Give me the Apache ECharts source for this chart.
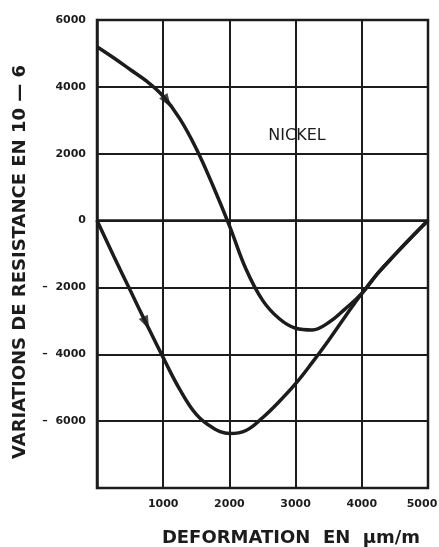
<!DOCTYPE html>
<html>
<head>
<meta charset="utf-8">
<script src="https://cdn.jsdelivr.net/npm/echarts@6/dist/echarts.min.js"></script>
<style>
  html, body { margin: 0; padding: 0; background: #fff; }
  #main { width: 439px; height: 547px; }
</style>
</head>
<body>
<div id="main"></div>
<script>
// deformation (µm/m)
var deformation = [0, 250, 500, 750, 1000, 1250, 1500, 1750, 2000, 2250, 2500,
    2750, 3000, 3250, 3500, 3750, 4000, 4250, 4500, 4750, 5000];
// lower branch, starts at 0
var lowerCurve = [0, -1050, -2080, -3100, -4100, -5050, -5800, -6200, -6370, -6280, -5900,
    -5420, -4880, -4250, -3580, -2870, -2180, -1560, -1020, -500, 0];
// upper branch, starts at 5200
var upperCurve = [5200, 4870, 4520, 4170, 3720, 3050, 2150, 1050, -150, -1450, -2380,
    -2930, -3220, -3270, -3050, -2640, -2180, -1560, -1020, -500, 0];
// arrow heads [x, y, rotation]
var arrows = [[1060, 3560, -146], [744, -3070, -155]];
var xTicks = [0, 1000, 2000, 3000, 4000, 5000];
var yTicks = [-8000, -6000, -4000, -2000, 0, 2000, 4000, 6000];

var ink = '#1c1c1c';
var labelFont = { color: ink, fontFamily: 'DejaVu Sans', fontWeight: 'bold', fontSize: 11 };
var chart = echarts.init(document.getElementById('main'));

function pairs(xs, ys) {
    var out = [];
    for (var i = 0; i < xs.length; i++) out.push([xs[i], ys[i]]);
    return out;
}

var option = {
    backgroundColor: '#fff',
    animation: false,
    grid: {
        left: 97, right: 11, top: 20, bottom: 59,
        outerBoundsMode: 'none',
        show: true, borderColor: ink, borderWidth: 2.5
    },
    xAxis: {
        type: 'value',
        min: xTicks[0], max: xTicks[xTicks.length - 1], interval: 1000,
        axisLine: { show: true, lineStyle: { color: ink, width: 2.5 } },
        axisTick: { show: false },
        splitLine: { show: true, lineStyle: { color: ink, width: 2 } },
        axisLabel: {
            margin: 11, color: ink, fontFamily: 'DejaVu Sans', fontWeight: 'bold', fontSize: 11,
            formatter: function (v) {
                if (v === 0) return '';
                // last label sits a bit inside the frame
                return v === 5000 ? '{r|' + v + '}' : String(v);
            },
            rich: { r: Object.assign({ padding: [0, 12, 0, 0] }, labelFont) }
        }
    },
    yAxis: {
        type: 'value',
        min: yTicks[0], max: yTicks[yTicks.length - 1], interval: 2000,
        axisLine: { show: true, lineStyle: { color: ink, width: 2.5 } },
        axisTick: { show: false },
        splitLine: { show: true, lineStyle: { color: ink, width: 2 } },
        axisLabel: {
            margin: 11, color: ink, fontFamily: 'DejaVu Sans', fontWeight: 'bold', fontSize: 11,
            padding: [0, 0, 8, 0],
            formatter: function (v) {
                if (v === -8000) return '';
                return v < 0 ? '–  ' + Math.abs(v) : String(v);
            }
        }
    },
    series: [
        {
            type: 'line', smooth: 0.4, symbol: 'none',
            data: pairs(deformation, lowerCurve),
            lineStyle: { color: ink, width: 3.5 }
        },
        {
            type: 'line', smooth: 0.4, symbol: 'none',
            data: pairs(deformation, upperCurve),
            lineStyle: { color: ink, width: 3.5 }
        },
        {
            type: 'scatter',
            symbol: 'triangle', symbolSize: [10, 14],
            itemStyle: { color: ink },
            data: arrows.map(function (a) {
                return { value: [a[0], a[1]], symbolRotate: a[2] };
            })
        }
    ],
    graphic: [
        {
            type: 'text', x: 20, y: 262, rotation: Math.PI / 2,
            style: {
                text: 'VARIATIONS DE RESISTANCE EN 10 — 6',
                align: 'center', verticalAlign: 'middle',
                font: 'bold 18px "DejaVu Sans"', fill: ink
            }
        },
        {
            type: 'text', x: 291, y: 538,
            style: {
                text: 'DEFORMATION  EN  µm/m',
                align: 'center', verticalAlign: 'middle',
                font: 'bold 18px "DejaVu Sans"', fill: ink
            }
        },
        {
            type: 'text', x: 297, y: 136,
            style: {
                text: 'NICKEL',
                align: 'center', verticalAlign: 'middle',
                font: '16px "DejaVu Sans"', fill: ink
            }
        }
    ]
};

chart.setOption(option);
</script>
</body>
</html>
